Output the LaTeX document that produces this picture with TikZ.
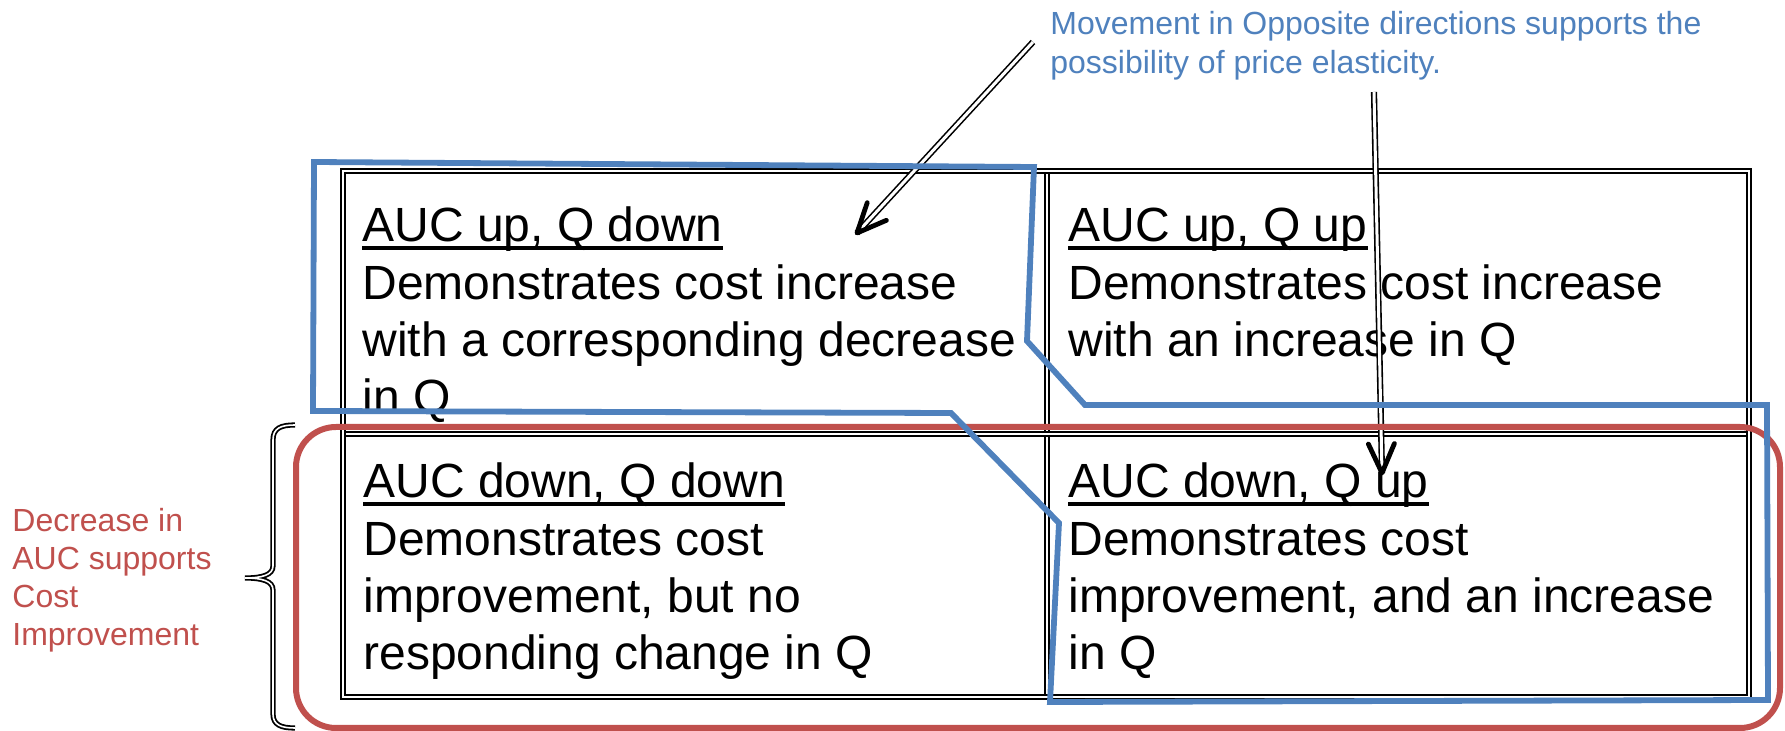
\documentclass[tikz,border=0pt]{standalone}
\usepackage{fontspec}
\setmainfont{Liberation Sans}
\usetikzlibrary{calc}
\definecolor{oblue}{HTML}{4F81BD}
\definecolor{ored}{HTML}{C0504D}
\newcommand{\lines}[1]{\begin{tabular}[t]{@{}l@{}}#1\end{tabular}}
\begin{document}
\begin{tikzpicture}[x=0.5pt,y=-0.5pt,
  tbl/.style={draw=black, line width=1pt, double=white, double distance=1.3pt},
  celltxt/.style={font=\fontsize{24}{28.65}\selectfont, inner sep=0pt, anchor=base west, text=black},
  uline/.style={line width=1.6pt},
  shaft/.style={line width=0.8pt, double=white, double distance=1.5pt},
  barb/.style={line width=2.4pt, line cap=round, line join=round},
  redbox/.style={draw=ored, line width=3pt, rounded corners=20pt},
  blueline/.style={draw=oblue, line width=2.9pt, line join=miter},
  bracestyle/.style={line width=0.9pt, double=white, double distance=0.8pt},
  note/.style={font=\fontsize{16}{19}\selectfont, inner sep=0pt, anchor=base west}
]
\useasboundingbox (0,0) rectangle (1785,731);

% table grid
\draw[tbl] (1047,171) -- (1047,697);
\draw[tbl] (343,434) -- (1749,434);
\draw[tbl] (343,171) rectangle (1749,697);

% cell texts
\node[celltxt] (h1) at (362,242) {AUC up, Q down};
\node[celltxt] (b1) at (362,299.3) {\lines{Demonstrates cost increase\\with a corresponding decrease\\in Q}};
\node[celltxt] (h2) at (1068,242) {AUC up, Q up};
\node[celltxt] (b2) at (1068,299.3) {\lines{Demonstrates cost increase\\with an increase in Q}};
\node[celltxt] (h3) at (363,498) {AUC down, Q down};
\node[celltxt] (b3) at (363,555.3) {\lines{Demonstrates cost\\improvement, but no\\responding change in Q}};
\node[celltxt] (h4) at (1068,498) {AUC down, Q up};
\node[celltxt] (b4) at (1068,555.3) {\lines{Demonstrates cost\\improvement, and an increase\\in Q}};
\foreach \h in {h1,h2,h3,h4}{
  \draw[uline] ([yshift=-3pt]\h.base west) -- ([yshift=-3pt]\h.base east);
}

% arrows
\coordinate (a1s) at (1033,42);
\coordinate (a1e) at (857,233);
\coordinate (a2s) at (1374,92);
\coordinate (a2e) at (1382,473);
\draw[shaft] (a1s) -- (a1e);
\draw[barb] ($(a1e)!16pt!24:(a1s)$) -- (a1e) -- ($(a1e)!16pt!-24:(a1s)$);
\draw[shaft] (a2s) -- (a2e);
\draw[barb] ($(a2e)!16pt!24:(a2s)$) -- (a2e) -- ($(a2e)!16pt!-24:(a2s)$);

% red rounded box
\draw[redbox] (296,427) rectangle (1780,728);

% blue outline
\draw[blueline] (314,162) -- (1034,167) -- (1027,341) -- (1085,405) -- (1767,405)
  -- (1768,700) -- (1050,702) -- (1059,523) -- (951,413) -- (313,411) -- cycle;

% brace
\draw[bracestyle] (295,425) .. controls (281,425) and (273,428) .. (273,440)
  -- (273,566) .. controls (273,575) and (262,578) .. (245,578)
  .. controls (262,578) and (273,581) .. (273,590)
  -- (273,714) .. controls (273,725) and (281,728) .. (295,728);

% notes
\node[note, text=ored, font=\fontsize{16}{18.85}\selectfont] (rednote) at (12,532)
  {\lines{Decrease in\\AUC supports\\Cost\\Improvement}};
\node[note, text=oblue, font=\fontsize{16}{19.25}\selectfont] (bluenote) at (1050,35)
  {\lines{Movement in Opposite directions supports the\\possibility of price elasticity.}};
\end{tikzpicture}
\end{document}
